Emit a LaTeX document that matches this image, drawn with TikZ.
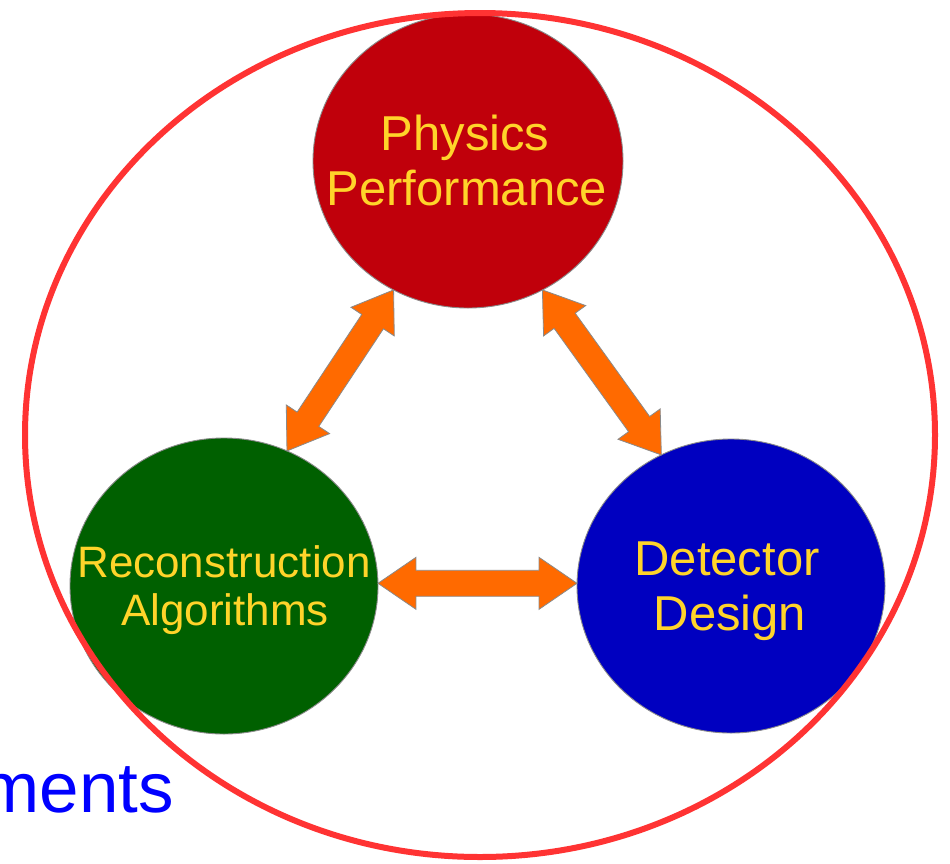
\documentclass[tikz,border=0pt]{standalone}
\usepackage{fontspec}
\setmainfont{Liberation Sans}
\usetikzlibrary{calc,shapes.geometric}
\definecolor{ringred}{HTML}{FF3333}
\definecolor{physred}{HTML}{C0000B}
\definecolor{recogreen}{HTML}{006000}
\definecolor{detblue}{HTML}{0000C0}
\definecolor{arroworange}{HTML}{FF6A00}
\definecolor{labelyellow}{HTML}{FFD42A}
\definecolor{edgegray}{HTML}{8A8A8A}
\definecolor{textblue}{HTML}{0000FF}
\newcommand{\dblarrow}[2]{%
  \draw[barrow] (#1)
    -- ($(#1)!38pt!(#2)!26pt!90:(#2)$)
    -- ($(#1)!38pt!(#2)!13pt!90:(#2)$)
    -- ($(#2)!38pt!(#1)!13pt!-90:(#1)$)
    -- ($(#2)!38pt!(#1)!26pt!-90:(#1)$)
    -- (#2)
    -- ($(#2)!38pt!(#1)!26pt!90:(#1)$)
    -- ($(#2)!38pt!(#1)!13pt!90:(#1)$)
    -- ($(#1)!38pt!(#2)!13pt!-90:(#2)$)
    -- ($(#1)!38pt!(#2)!26pt!-90:(#2)$)
    -- cycle;}
\begin{document}
\begin{tikzpicture}[x=1pt,y=-1pt,
  bubble/.style={ellipse, draw=edgegray, line width=0.9pt, inner sep=0pt, outer sep=0pt},
  lbl/.style={text=labelyellow, anchor=base, inner sep=0pt},
  barrow/.style={fill=arroworange, draw=edgegray, line width=0.8pt, line join=miter}]
\useasboundingbox (0,0) rectangle (950,863);
% circles
\node[bubble, fill=physred, minimum width=310pt, minimum height=294pt] (phys) at (468,161) {};
\node[bubble, fill=recogreen, minimum width=308pt, minimum height=296pt] (reco) at (224,586) {};
\node[bubble, fill=detblue, minimum width=308pt, minimum height=294pt] (det) at (731,586) {};
% labels
\node[lbl, font=\fontsize{49}{55}\selectfont] (t1) at (465,150) {Physics};
\node[lbl, font=\fontsize{49}{55}\selectfont] (t2) at (467,205) {Performance};
\node[lbl, font=\fontsize{44}{48}\selectfont] (t3) at (224,577) {Reconstruction};
\node[lbl, font=\fontsize{44}{48}\selectfont] (t4) at (225,625) {Algorithms};
\node[lbl, font=\fontsize{49}{55}\selectfont] (t5) at (727,575) {Detector};
\node[lbl, font=\fontsize{49}{55}\selectfont] (t6) at (730,630) {Design};
% arrow ends
\coordinate (a1) at (phys.240.8);
\coordinate (a2) at (reco.65.3);
\coordinate (b1) at (phys.300.2);
\coordinate (b2) at (det.118.9);
\coordinate (c1) at (reco.1);
\coordinate (c2) at (det.179);
\dblarrow{a1}{a2}
\dblarrow{b1}{b2}
\dblarrow{c1}{c2}
% outer ring
\node[ellipse, draw=ringred, line width=6pt, inner sep=0pt, outer sep=0pt,
      minimum width=910pt, minimum height=844pt] (ring) at (480,435) {};
% clipped text
\node[text=textblue, anchor=base east, inner sep=0pt, font=\fontsize{71}{80}\selectfont] (ments) at (174,812) {ments};
\end{tikzpicture}
\end{document}
